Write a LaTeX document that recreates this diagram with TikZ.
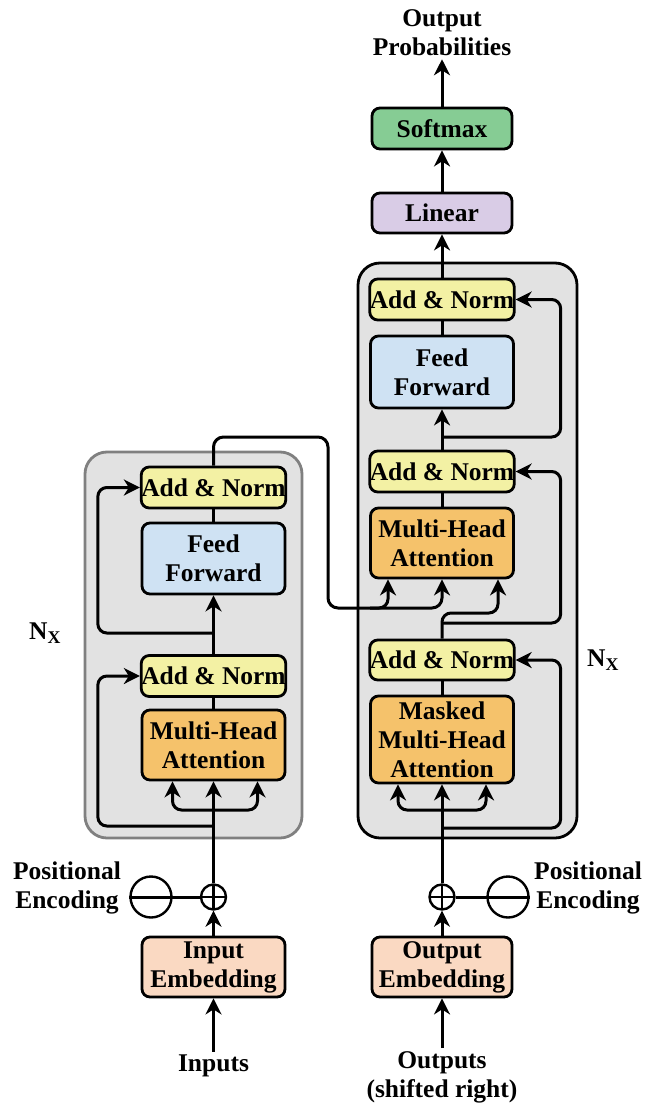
\documentclass[tikz,border=0pt]{standalone}
\usepackage{fontspec}
\setmainfont{Liberation Serif}
\usetikzlibrary{arrows.meta}
\definecolor{anfill}{HTML}{F3F1A4}
\definecolor{fffill}{HTML}{CFE2F3}
\definecolor{mhafill}{HTML}{F5C26B}
\definecolor{linfill}{HTML}{D9CCE6}
\definecolor{smfill}{HTML}{86CC94}
\definecolor{embfill}{HTML}{FAD9C2}
\definecolor{stackfill}{HTML}{E2E2E2}
\tikzset{
    block/.style={draw, line width=2.8pt, rounded corners=8pt, align=center,
                  inner sep=0pt, minimum width=143pt},
    addnorm/.style={block, fill=anfill, minimum height=41pt},
    ffn/.style={block, fill=fffill, minimum height=71pt},
    attn/.style={block, fill=mhafill, minimum height=70pt},
    embed/.style={block, fill=embfill, minimum height=60pt},
    head/.style={block, minimum width=140pt, minimum height=41pt},
    stack/.style={draw, line width=2.8pt, rounded corners=22pt, fill=stackfill},
    link/.style={line width=3pt},
    flow/.style={-{Stealth[length=16pt, width=16pt, inset=5pt]}, link},
    skip/.style={flow, rounded corners=9pt},
    adder/.style={circle, draw, line width=2.4pt, minimum size=25pt, inner sep=0pt,
                  path picture={\draw[line width=2.4pt]
                    (path picture bounding box.north) -- (path picture bounding box.south)
                    (path picture bounding box.west) -- (path picture bounding box.east);}},
    posenc/.style={circle, draw, line width=2.4pt, minimum size=41pt, inner sep=0pt},
    label/.style={align=center, inner sep=3pt},
}

\begin{document}
\begin{tikzpicture}[x=1pt, y=-1pt, font=\fontsize{25.5}{29}\selectfont\bfseries]
    \useasboundingbox (0,0) rectangle (650,1107);

    % encoder and decoder stacks
    \node[stack, draw=black!50, minimum width=217pt, minimum height=386pt] (encstack) at (193.5,645) {};
    \node[stack, minimum width=219pt, minimum height=575pt] (decstack) at (467.5,550.5) {};
    \node (encn) at (45,633) {N\textsubscript{X}};
    \node (decn) at (603,660) {N\textsubscript{X}};

    % encoder
    \node[addnorm] (eann2) at (213.5,487.5) {Add \& Norm};
    \node[ffn] (effn) at (213.5,558.5) {Feed\\Forward};
    \node[addnorm] (eann1) at (213.5,676) {Add \& Norm};
    \node[attn] (emha) at (213.5,745) {Multi-Head\\Attention};
    \node[adder] (eadd) at (213.5,897) {};
    \node[posenc] (epe) at (151,897) {};
    \node[label] at (67,888) {Positional\\Encoding};
    \node[embed] (iemb) at (213.5,967) {Input\\Embedding};
    \node[label] (inputs) at (213.5,1066) {Inputs};

    % decoder
    \node[head, fill=smfill] (softmax) at (442,128.5) {Softmax};
    \node[head, fill=linfill, minimum height=40pt] (linear) at (442,213) {Linear};
    \node[label] (outprob) at (442,33) {Output\\Probabilities};
    \node[addnorm] (dann3) at (442,299.5) {Add \& Norm};
    \node[ffn, minimum height=72pt] (dffn) at (442,372) {Feed\\Forward};
    \node[addnorm] (dann2) at (442,471.5) {Add \& Norm};
    \node[attn] (dmha) at (442,543) {Multi-Head\\Attention};
    \node[addnorm, minimum height=40pt] (dann1) at (442,660) {Add \& Norm};
    \node[attn, minimum height=87pt] (dmmha) at (442,739.5) {Masked\\Multi-Head\\Attention};
    \node[adder] (dadd) at (442,897) {};
    \node[posenc] (dpe) at (508,897) {};
    \node[label] at (588,888) {Positional\\Encoding};
    \node[embed, minimum width=140pt] (oemb) at (442,967) {Output\\Embedding};
    \node[label] (outputs) at (442,1077) {Outputs\\(shifted right)};

    % encoder connections
    \draw[flow] (inputs.north) -- (iemb.south);
    \draw[flow] (iemb.north) -- (eadd.south);
    \draw[link] (epe.west) -- (eadd.west);
    \draw[flow] (eadd.north) -- (emha.south);
    \draw[skip] (213.5,810) -| ([xshift=-41pt]emha.south);
    \draw[skip] (213.5,810) -| ([xshift=44pt]emha.south);
    \draw[skip] (213.5,826) -| ([xshift=-42pt]eann1.west) -- (eann1.west);
    \draw[link] (emha.north) -- (eann1.south);
    \draw[flow] (eann1.north) -- (effn.south);
    \draw[skip] (213.5,633) -| ([xshift=-42pt]eann2.west) -- (eann2.west);
    \draw[link] (effn.north) -- (eann2.south);

    % encoder output into the decoder attention
    \draw[flow, rounded corners=10pt] (eann2.north) |- (328,437) -- (328,608) -| (dmha.south);
    \draw[skip] (370,608) -| ([xshift=-54pt]dmha.south);

    % decoder connections
    \draw[flow] (outputs.north) -- (oemb.south);
    \draw[flow] (oemb.north) -- (dadd.south);
    \draw[link] (dadd.east) -- (dpe.east);
    \draw[flow] (dadd.north) -- (dmmha.south);
    \draw[skip] (442,810) -| ([xshift=-44pt]dmmha.south);
    \draw[skip] (442,810) -| ([xshift=44pt]dmmha.south);
    \draw[skip] (442,828) -| ([xshift=45pt]dann1.east) -- (dann1.east);
    \draw[link] (dmmha.north) -- (dann1.south);
    \draw[skip] (dann1.north) |- (470,613) -| ([xshift=56pt]dmha.south);
    \draw[skip] (442,623) -| ([xshift=45pt]dann2.east) -- (dann2.east);
    \draw[link] (dmha.north) -- (dann2.south);
    \draw[flow] (dann2.north) -- (dffn.south);
    \draw[skip] (442,437) -| ([xshift=45pt]dann3.east) -- (dann3.east);
    \draw[link] (dffn.north) -- (dann3.south);
    \draw[flow] (dann3.north) -- (linear.south);
    \draw[flow] (linear.north) -- (softmax.south);
    \draw[flow] (softmax.north) -- (outprob.south);

\end{tikzpicture}
\end{document}
